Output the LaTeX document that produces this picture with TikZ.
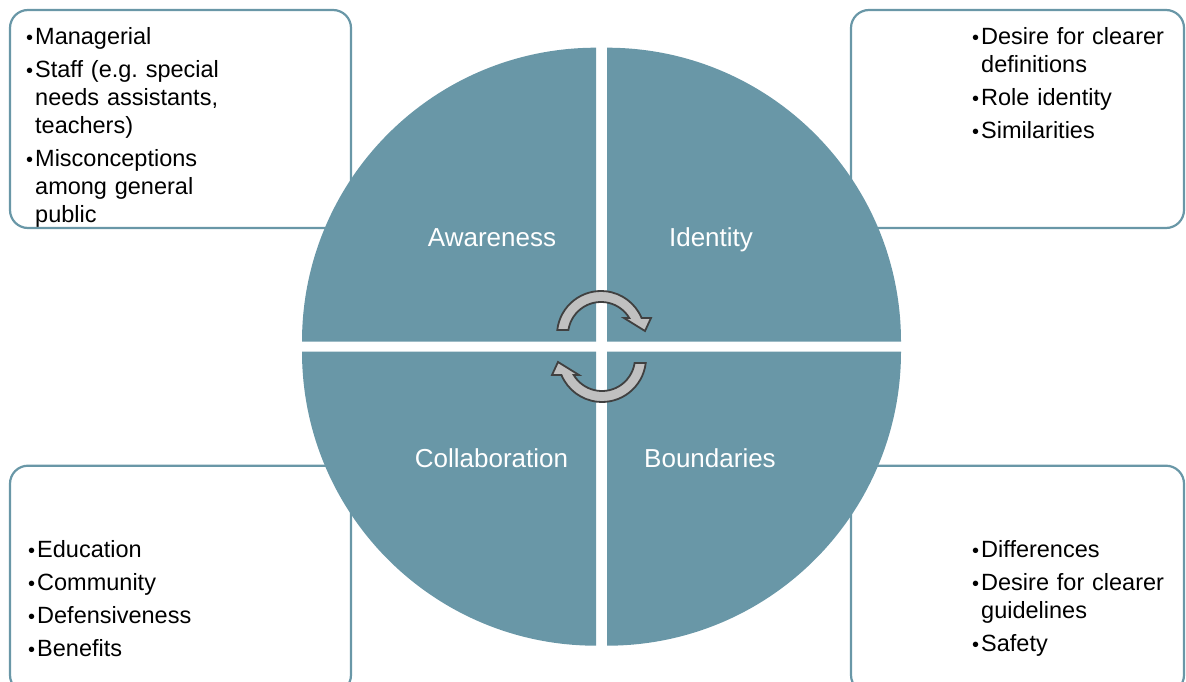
\documentclass[tikz,border=0pt]{standalone}
\usepackage{fontspec}
\setmainfont{Liberation Sans}
\definecolor{quadteal}{RGB}{105,151,167}
\definecolor{arrowgray}{RGB}{192,192,192}
\definecolor{arrowedge}{RGB}{64,64,64}
\newcommand{\bitem}[1]{\noindent\hangindent=9pt\hangafter=1\makebox[9pt][l]{\fontsize{20}{20}\selectfont•}#1\par}

\begin{document}
\begin{tikzpicture}[x=1pt, y=1pt,
	quad/.style={fill=quadteal},
	boxline/.style={draw=quadteal, line width=2.2pt, rounded corners=18pt},
	boxtext/.style={anchor=north west, inner sep=0pt, text width=300pt, align=left,
		font=\fontsize{23.5}{28}\selectfont\setlength{\parskip}{5pt}\frenchspacing},
	quadlabel/.style={anchor=base, inner sep=0pt, text=white, font=\fontsize{26}{30}\selectfont},
	cycarrow/.style={fill=arrowgray, draw=arrowedge, line width=1.8pt, line join=miter}]
	
	\useasboundingbox (0,0) rectangle (1186,681);
	
	% Outer boxes
	\draw[boxline] (10,671) rectangle (351,453);
	\draw[boxline] (851,671) rectangle (1184,453);
	\draw[boxline] (10,215.3) rectangle (351,-12);
	\draw[boxline] (851,215.3) rectangle (1184,-12);
	
	% Four quadrants of the circle
	\foreach \cx/\cy/\a in {596/339.3/90, 607/339.3/0, 596/329.3/180, 607/329.3/270} {
		\fill[quad] (\cx,\cy) -- ++(\a:294) arc[start angle=\a, end angle=\a+90, radius=294] -- cycle;
	}
	
	% Cycle arrows in the middle
	\foreach \r in {0,180} {
		\draw[cycarrow, rotate around={\r:(601.5,334.5)}, shift={(601,346)}]
		(173.5:44) arc[start angle=173.5, end angle=22.7, radius=44]
		-- (50,17) -- (44,4) -- (23,17) -- (28.3,17)
		arc[start angle=31, end angle=171.3, radius=33] -- cycle;
	}
	
	% Quadrant labels
	\node[quadlabel] (awareness) at (492,434) {Awareness};
	\node[quadlabel] (identity) at (711,434) {Identity};
	\node[quadlabel] (collaboration) at (491.5,214) {Collaboration};
	\node[quadlabel] (boundaries) at (710,214) {Boundaries};
	
	% Bullet lists
	\node[boxtext] (awarelist) at (26,654.2) {\bitem{Managerial}\bitem{Staff (e.g. special\newline needs assistants,\newline teachers)}\bitem{Misconceptions\newline among general\newline public}};
	\node[boxtext] (identlist) at (972,653.5) {\bitem{Desire for clearer\newline definitions}\bitem{Role identity}\bitem{Similarities}};
	\node[boxtext] (collablist) at (28,141.2) {\bitem{Education}\bitem{Community}\bitem{Defensiveness}\bitem{Benefits}};
	\node[boxtext] (boundlist) at (972,141.2) {\bitem{Differences}\bitem{Desire for clearer\newline guidelines}\bitem{Safety}};
	
\end{tikzpicture}
\end{document}
